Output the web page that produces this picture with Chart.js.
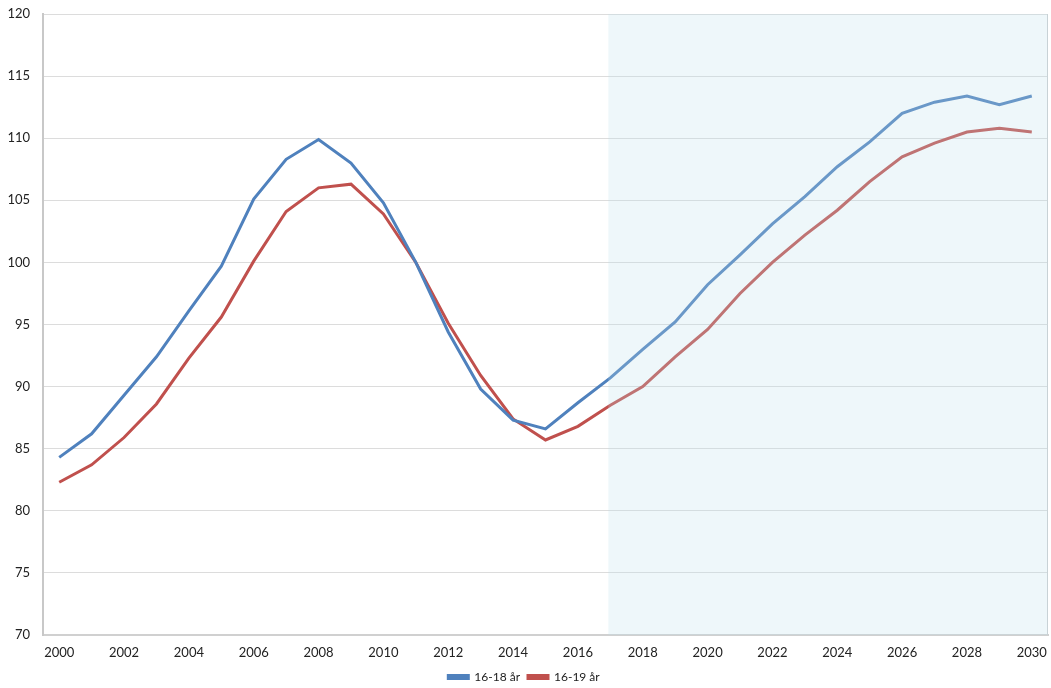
<!DOCTYPE html>
<html>
<head>
<meta charset="utf-8">
<script src="https://cdn.jsdelivr.net/npm/chart.js@4"></script>
<style>
  html, body { margin: 0; padding: 0; background: #fff; }
  #wrap { width: 1051px; height: 688px; }
</style>
</head>
<body>
<div id="wrap"><canvas id="lineChart" width="1051" height="688"></canvas></div>
<script>
let years = ['2000','2001','2002','2003','2004','2005','2006','2007','2008','2009','2010',
  '2011','2012','2013','2014','2015','2016','2017','2018','2019','2020',
  '2021','2022','2023','2024','2025','2026','2027','2028','2029','2030'];
let age1618 = [84.3, 86.2, 89.3, 92.4, 96.1, 99.7, 105.1, 108.3, 109.9, 108.0, 104.8,
  100.0, 94.4, 89.8, 87.3, 86.6, 88.7, 90.7, 93.0, 95.2, 98.2,
  100.6, 103.1, 105.3, 107.7, 109.7, 112.0, 112.9, 113.4, 112.7, 113.4];
let age1619 = [82.3, 83.7, 85.9, 88.6, 92.3, 95.6, 100.1, 104.1, 106.0, 106.3, 103.9,
  100.0, 95.1, 90.9, 87.4, 85.7, 86.8, 88.5, 90.0, 92.4, 94.6,
  97.5, 100.0, 102.2, 104.2, 106.5, 108.5, 109.6, 110.5, 110.8, 110.5];
let seriesNames = ['16-18 år', '16-19 år'];
let colors = ['#4f81bd', '#c0504d'];
let projectionStart = '2017';

Chart.defaults.font.family = 'Lato, "Open Sans", sans-serif';
Chart.defaults.font.size = 13;
Chart.defaults.color = '#222';

// light blue band over the projection years, drawn on top so the lines look paler
const projectionBand = {
  id: 'projectionBand',
  afterDatasetsDraw(chart) {
    const {ctx, chartArea, scales} = chart;
    const x0 = scales.x.getPixelForValue(years.indexOf(projectionStart)) - 2;
    ctx.save();
    ctx.fillStyle = 'rgba(187, 223, 235, 0.25)';
    ctx.fillRect(x0, chartArea.top, chartArea.right - x0, chartArea.bottom - chartArea.top);
    ctx.strokeStyle = '#c8d2d6';
    ctx.lineWidth = 1;
    ctx.beginPath();
    ctx.moveTo(chartArea.right - 0.5, chartArea.top);
    ctx.lineTo(chartArea.right - 0.5, chartArea.bottom);
    ctx.stroke();
    ctx.restore();
  }
};

let ctx = document.getElementById('lineChart').getContext('2d');

new Chart(ctx, {
  type: 'line',
  data: {
    labels: years,
    datasets: [
      { label: seriesNames[0], data: age1618, borderColor: colors[0], backgroundColor: colors[0],
        borderWidth: 3, pointRadius: 0, tension: 0 },
      { label: seriesNames[1], data: age1619, borderColor: colors[1], backgroundColor: colors[1],
        borderWidth: 3, pointRadius: 0, tension: 0 }
    ]
  },
  options: {
    responsive: false,
    animation: false,
    layout: { padding: { top: 14, right: 3, left: 0, bottom: -5 } },
    plugins: {
      legend: {
        position: 'bottom',
        labels: { boxWidth: 20, boxHeight: 3, padding: 8, font: { size: 12 } }
      },
      tooltip: { enabled: false }
    },
    scales: {
      x: {
        offset: true,
        grid: { display: false, drawTicks: false },
        border: { color: '#d0d0d0', width: 2 },
        ticks: {
          padding: 10, maxRotation: 0, autoSkip: false,
          callback: function(val, i) { return i % 2 === 0 ? this.getLabelForValue(val) : ''; }
        },
        afterFit: function(axis) {
          axis.height = 28;
          axis.paddingLeft = 0;
          axis.paddingRight = 0;
        }
      },
      y: {
        min: 70, max: 120,
        ticks: { stepSize: 5, padding: 13 },
        grid: { color: '#dcdcdc', lineWidth: 1, drawTicks: false },
        border: { color: '#c8c8c8', width: 2 },
        afterFit: function(axis) {
          axis.width = 43;
          axis.paddingTop = 0;
          axis.paddingBottom = 0;
        }
      }
    }
  },
  plugins: [projectionBand]
});
</script>
</body>
</html>
